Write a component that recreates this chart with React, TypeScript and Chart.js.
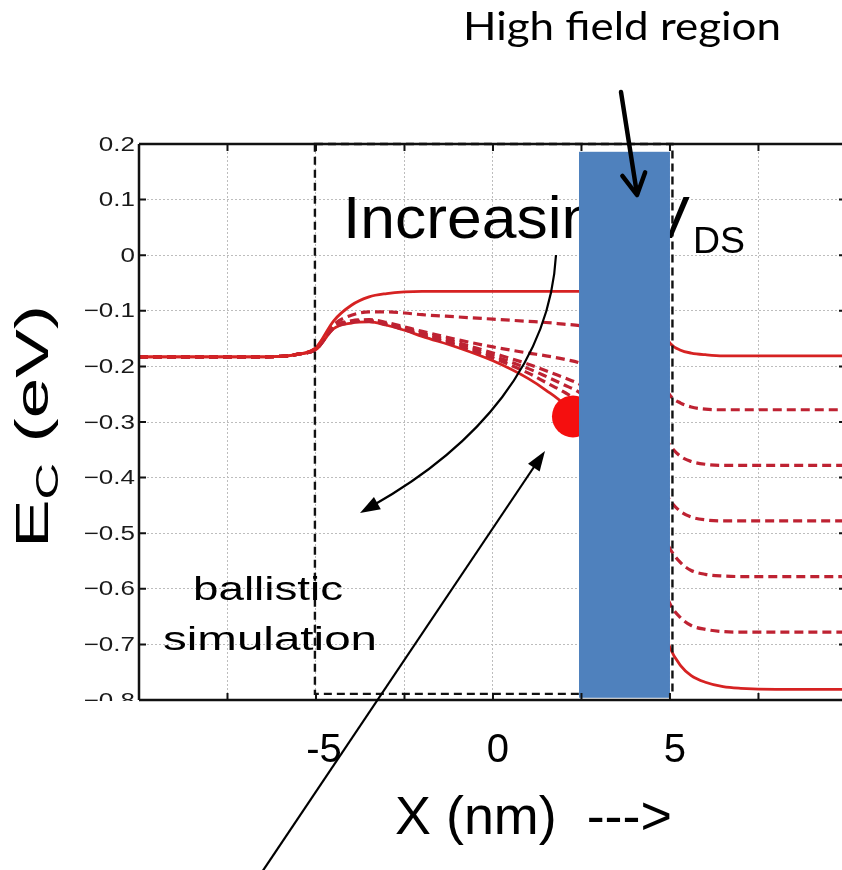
import React, { useEffect, useRef } from 'react';
import { Chart, registerables } from 'chart.js';

Chart.register(...registerables);

// ---- data ----
const X_NM = [-10, -7, -6, -5.5, -5, -4.5, -4, -3.5, -3, -2.5, -2, -1, 0, 1, 1.5, 2, 2.5, 3.5, 4.5, 5, 5.3, 5.6, 6, 6.5, 7, 8, 9.86];

const EC_VDS_0 = [-0.183, -0.183, -0.182, -0.178, -0.166, -0.118, -0.09, -0.075, -0.069, -0.066, -0.065, -0.065, -0.065, -0.065, -0.065, -0.065, -0.065, -0.067, -0.1, -0.158, -0.171, -0.176, -0.179, -0.181, -0.181, -0.181, -0.181];
const EC_VDS_1 = [-0.183, -0.183, -0.182, -0.178, -0.167, -0.125, -0.108, -0.102, -0.102, -0.104, -0.107, -0.111, -0.115, -0.119, -0.121, -0.124, -0.127, -0.14, -0.19, -0.252, -0.266, -0.273, -0.277, -0.278, -0.278, -0.278, -0.278];
const EC_VDS_2 = [-0.183, -0.183, -0.182, -0.178, -0.168, -0.128, -0.118, -0.116, -0.121, -0.129, -0.137, -0.152, -0.165, -0.176, -0.181, -0.187, -0.195, -0.23, -0.29, -0.342, -0.362, -0.371, -0.376, -0.378, -0.378, -0.378, -0.378];
const EC_VDS_3 = [-0.183, -0.183, -0.182, -0.178, -0.168, -0.129, -0.119, -0.117, -0.123, -0.131, -0.14, -0.157, -0.176, -0.196, -0.208, -0.22, -0.234, -0.29, -0.38, -0.441, -0.461, -0.471, -0.476, -0.478, -0.478, -0.478, -0.478];
const EC_VDS_4 = [-0.183, -0.183, -0.182, -0.178, -0.169, -0.13, -0.12, -0.118, -0.124, -0.133, -0.142, -0.16, -0.181, -0.204, -0.218, -0.233, -0.25, -0.33, -0.46, -0.528, -0.553, -0.567, -0.574, -0.577, -0.578, -0.578, -0.578];
const EC_VDS_5 = [-0.183, -0.183, -0.182, -0.178, -0.169, -0.131, -0.121, -0.119, -0.125, -0.134, -0.144, -0.163, -0.185, -0.212, -0.229, -0.246, -0.268, -0.37, -0.54, -0.627, -0.652, -0.666, -0.673, -0.677, -0.678, -0.678, -0.678];
const EC_VDS_6 = [-0.183, -0.183, -0.182, -0.178, -0.17, -0.132, -0.122, -0.12, -0.126, -0.135, -0.146, -0.166, -0.19, -0.222, -0.243, -0.268, -0.31, -0.42, -0.6, -0.706, -0.738, -0.756, -0.768, -0.776, -0.779, -0.781, -0.781];

const CURVES = [EC_VDS_0, EC_VDS_1, EC_VDS_2, EC_VDS_3, EC_VDS_4, EC_VDS_5, EC_VDS_6];
const CURVE_DASHED = [false, true, true, true, true, true, false];

const Y_TICKS = [0.2, 0.1, 0, -0.1, -0.2, -0.3, -0.4, -0.5, -0.6, -0.7, -0.8];
const X_GRID = [-7.5, -5, -2.5, 0, 2.5, 5, 7.5];
const X_TICK_LABELS = [-5, 0, 5];

const DOT_POINT = [2.26, -0.29];
const BALLISTIC_BOX = [-5.03, 5.07, 0.2, -0.789];
const HIGH_FIELD_BOX = [2.43, 5.0, 0.186, -0.796];

const FONT = "'Liberation Sans', Arial, sans-serif";

function fitText(ctx: CanvasRenderingContext2D, text: string, x: number, y: number, font: string, width: number, align: CanvasTextAlign) {
  ctx.font = font;
  const w = ctx.measureText(text).width;
  ctx.save();
  ctx.translate(x, y);
  ctx.scale(width / w, 1);
  ctx.textAlign = align;
  ctx.textBaseline = 'alphabetic';
  ctx.fillText(text, 0, 0);
  ctx.restore();
}

function filledHead(ctx: CanvasRenderingContext2D, fx: number, fy: number, tx: number, ty: number, len: number, half: number) {
  const dx = tx - fx, dy = ty - fy;
  const d = Math.hypot(dx, dy);
  const ux = dx / d, uy = dy / d;
  const bx = tx - ux * len, by = ty - uy * len;
  ctx.beginPath();
  ctx.moveTo(tx, ty);
  ctx.lineTo(bx - uy * half, by + ux * half);
  ctx.lineTo(bx + uy * half, by - ux * half);
  ctx.closePath();
  ctx.fill();
}

const overlayPlugin = {
  id: 'overlay',
  afterDatasetsDraw(chart: any) {
    const ctx: CanvasRenderingContext2D = chart.ctx;
    const xs = chart.scales.x, ys = chart.scales.y;
    const a = chart.chartArea;
    const px = (v: number) => xs.getPixelForValue(v);
    const py = (v: number) => ys.getPixelForValue(v);
    ctx.save();

    // dashed "ballistic simulation" box
    ctx.strokeStyle = '#111';
    ctx.lineWidth = 2.4;
    ctx.setLineDash([8, 5]);
    const bx0 = px(BALLISTIC_BOX[0]), bx1 = px(BALLISTIC_BOX[1]);
    const by0 = py(BALLISTIC_BOX[2]), by1 = py(BALLISTIC_BOX[3]);
    ctx.strokeRect(bx0, by0, bx1 - bx0, by1 - by0);
    ctx.setLineDash([]);

    // Increasing V_DS (under the blue bar)
    ctx.fillStyle = '#000';
    fitText(ctx, 'Increasing V', 343, 238, `60px ${FONT}`, 347, 'left');
    fitText(ctx, 'DS', 693, 253, `36px ${FONT}`, 52, 'left');

    // high field bar
    ctx.fillStyle = '#4f81bd';
    const hx0 = px(HIGH_FIELD_BOX[0]), hx1 = px(HIGH_FIELD_BOX[1]);
    const hy0 = py(HIGH_FIELD_BOX[2]), hy1 = py(HIGH_FIELD_BOX[3]);
    ctx.fillRect(hx0, hy0, hx1 - hx0, hy1 - hy0);

    // axes frame
    ctx.strokeStyle = '#111';
    ctx.lineWidth = 2.5;
    ctx.beginPath();
    ctx.moveTo(a.left, a.top); ctx.lineTo(a.right, a.top);
    ctx.moveTo(a.left, a.top); ctx.lineTo(a.left, a.bottom);
    ctx.moveTo(a.left, a.bottom); ctx.lineTo(a.right, a.bottom);
    ctx.stroke();
    ctx.lineWidth = 2;
    ctx.beginPath();
    for (const v of Y_TICKS) {
      const y = py(v);
      ctx.moveTo(a.left, y); ctx.lineTo(a.left + 7, y);
      ctx.moveTo(a.right - 3, y); ctx.lineTo(a.right, y);
    }
    for (const v of X_GRID) {
      const x = px(v);
      ctx.moveTo(x, a.top); ctx.lineTo(x, a.top + 7);
      ctx.moveTo(x, a.bottom); ctx.lineTo(x, a.bottom - 7);
    }
    ctx.stroke();

    // y tick labels (stretched, like the source figure)
    ctx.save();
    ctx.beginPath();
    ctx.rect(0, 0, a.left, a.bottom + 1);
    ctx.clip();
    ctx.fillStyle = '#1a1a1a';
    ctx.font = `20px ${FONT}`;
    ctx.textAlign = 'right';
    ctx.textBaseline = 'middle';
    for (const v of Y_TICKS) {
      const label = v === 0 ? '0' : (v < 0 ? '\u2212' : '') + Math.abs(v).toFixed(1);
      ctx.save();
      ctx.translate(a.left - 4, py(v) + 1);
      ctx.scale(1.3, 1);
      ctx.fillText(label, 0, 0);
      ctx.restore();
    }
    ctx.restore();

    // x tick labels
    ctx.fillStyle = '#000';
    ctx.font = `40px ${FONT}`;
    ctx.textAlign = 'center';
    ctx.textBaseline = 'alphabetic';
    for (const v of X_TICK_LABELS) {
      const label = v < 0 ? '-' + Math.abs(v) : String(v);
      ctx.fillText(label, px(v) + (v < 0 ? 8 : 5), 762);
    }

    // axis titles
    fitText(ctx, 'X (nm)  --->', 395, 834, `53px ${FONT}`, 277, 'left');
    ctx.save();
    ctx.translate(48, 548);
    ctx.rotate(-Math.PI / 2);
    const fBig = `46px ${FONT}`, fSub = `32px ${FONT}`;
    ctx.font = fBig; const wE = ctx.measureText('E').width; const wR = ctx.measureText(' (eV)').width;
    ctx.font = fSub; const wC = ctx.measureText('C').width;
    const s = 243 / (wE + wC + wR);
    ctx.scale(s, 1);
    ctx.textAlign = 'left';
    ctx.font = fBig; ctx.fillText('E', 0, 0);
    ctx.font = fSub; ctx.fillText('C', wE, 10);
    ctx.font = fBig; ctx.fillText(' (eV)', wE + wC, 0);
    ctx.restore();

    // ballistic simulation label
    fitText(ctx, 'ballistic', 268, 600, `34px ${FONT}`, 150, 'center');
    fitText(ctx, 'simulation', 270, 650, `34px ${FONT}`, 214, 'center');

    // High field region label + arrow
    fitText(ctx, 'High field region', 463, 40, "38px Lato, 'Open Sans', sans-serif", 318, 'left');
    ctx.strokeStyle = '#000';
    ctx.lineWidth = 4.5;
    ctx.lineCap = 'round';
    ctx.beginPath();
    ctx.moveTo(621, 92); ctx.lineTo(637, 194);
    ctx.stroke();
    {
      const ux = 16 / 103.2, uy = 102 / 103.2;
      const ang = 0.5, len = 24;
      ctx.beginPath();
      for (const sg of [-1, 1]) {
        const c = Math.cos(ang * sg), sn = Math.sin(ang * sg);
        const rx = ux * c - uy * sn, ry = ux * sn + uy * c;
        ctx.moveTo(637, 195); ctx.lineTo(637 - rx * len, 195 - ry * len);
      }
      ctx.stroke();
    }

    // curved "increasing" arrow
    ctx.lineWidth = 2.2;
    ctx.lineCap = 'butt';
    ctx.fillStyle = '#000';
    ctx.beginPath();
    ctx.moveTo(556, 255);
    ctx.bezierCurveTo(550, 360, 480, 445, 372, 506);
    ctx.stroke();
    filledHead(ctx, 480, 445, 360, 513, 20, 7);

    // straight arrow pointing at red dot
    ctx.beginPath();
    ctx.moveTo(262, 872);
    ctx.lineTo(540, 458);
    ctx.stroke();
    filledHead(ctx, 262, 872, 545, 451, 20, 7);

    ctx.restore();
  },
};

export default function App() {
  const canvasRef = useRef<HTMLCanvasElement | null>(null);

  useEffect(() => {
    const canvas = canvasRef.current;
    if (!canvas) return;
    const datasets: any[] = [
      {
        label: 'dot',
        data: [{ x: DOT_POINT[0], y: DOT_POINT[1] }],
        pointRadius: 21,
        pointBackgroundColor: '#f50f0f',
        pointBorderWidth: 0,
        showLine: false,
      },
    ];
    CURVES.forEach((arr, i) => {
      const dashed = CURVE_DASHED[i];
      datasets.push({
        label: 'VDS' + i,
        data: X_NM.map((x, j) => ({ x, y: arr[j] })),
        showLine: true,
        pointRadius: 0,
        borderColor: dashed ? 'rgb(190,34,50)' : 'rgb(214,34,34)',
        borderWidth: dashed ? 3.2 : 2.8,
        borderDash: dashed ? [9, 5] : [],
        cubicInterpolationMode: 'monotone',
        fill: false,
      });
    });

    const chart = new Chart(canvas, {
      type: 'scatter',
      data: { datasets },
      options: {
        animation: false,
        responsive: false,
        devicePixelRatio: 1,
        layout: { autoPadding: false, padding: { left: 139, top: 144, right: 0, bottom: 170 } },
        plugins: { legend: { display: false }, tooltip: { enabled: false } },
        scales: {
          x: {
            type: 'linear',
            min: -10,
            max: 9.86,
            afterFit: (scale: any) => { scale.height = 0; },
            ticks: { display: false, stepSize: 2.5, includeBounds: false },
            grid: { color: '#bdbdbd', lineWidth: 1, drawTicks: false },
            border: { display: false, dash: [2, 2] },
          },
          y: {
            type: 'linear',
            min: -0.8,
            max: 0.2,
            afterFit: (scale: any) => { scale.width = 0; },
            ticks: { display: false, stepSize: 0.1 },
            grid: { color: '#bdbdbd', lineWidth: 1, drawTicks: false },
            border: { display: false, dash: [2, 2] },
          },
        },
      },
      plugins: [overlayPlugin],
    });
    return () => chart.destroy();
  }, []);

  return (
    <div style={{ position: 'absolute', left: 0, top: 0, width: 842, height: 870, background: '#fff' }}>
      <canvas ref={canvasRef} width={842} height={870} style={{ display: 'block' }} />
    </div>
  );
}
